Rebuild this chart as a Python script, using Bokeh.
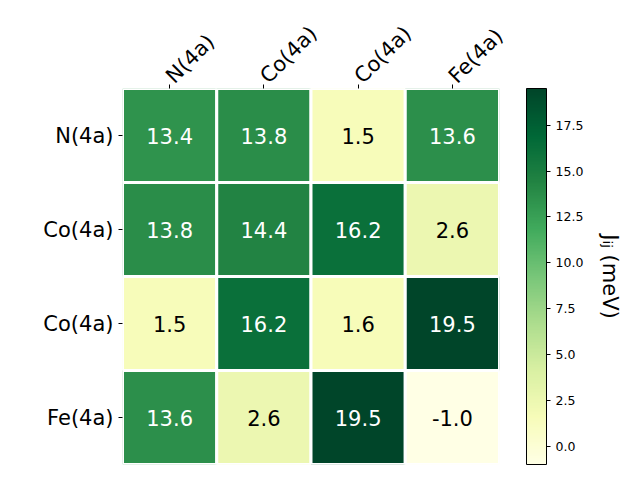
import math
from bokeh.plotting import figure
from bokeh.models import (ColumnDataSource, LinearColorMapper, ColorBar, FixedTicker,
                          PrintfTickFormatter, Range1d, LinearAxis)
from bokeh.palettes import YlGn9
from bokeh.embed import file_html
from bokeh.resources import INLINE

labels = ["N(4a)", "Co(4a)", "Co(4a)", "Fe(4a)"]
values = [
    [13.4, 13.8, 1.5, 13.6],
    [13.8, 14.4, 16.2, 2.6],
    [1.5, 16.2, 1.6, 19.5],
    [13.6, 2.6, 19.5, -1.0],
]
vmin, vmax = -1.0, 19.5
cbar_ticks = [0.0, 2.5, 5.0, 7.5, 10.0, 12.5, 15.0, 17.5]

# YlGn colormap (light -> dark), interpolated to 256 steps
base = list(reversed(YlGn9))
def _rgb(h):
    return tuple(int(h[i:i + 2], 16) for i in (1, 3, 5))
palette = []
n = 256
for k in range(n):
    t = k / (n - 1) * (len(base) - 1)
    i = min(int(t), len(base) - 2)
    f = t - i
    a, b = _rgb(base[i]), _rgb(base[i + 1])
    c = tuple(round(a[j] + (b[j] - a[j]) * f) for j in range(3))
    palette.append("#%02x%02x%02x" % c)

xs, ys, vs, txt, tcol = [], [], [], [], []
for r, row in enumerate(values):
    for c, v in enumerate(row):
        xs.append(c)
        ys.append(r)
        vs.append(v)
        txt.append(f"{v:.1f}")
        tcol.append("white" if v > 10 else "black")
src = ColumnDataSource(dict(x=xs, y=ys, v=vs, t=txt, tc=tcol))

mapper = LinearColorMapper(palette=palette, low=vmin, high=vmax)

p = figure(frame_width=377, frame_height=376,
           x_range=Range1d(-0.5, 3.5), y_range=Range1d(3.5, -0.5),
           x_axis_location="above", output_backend="svg", toolbar_location=None,
           min_border_left=122, min_border_top=88, min_border_bottom=8, min_border_right=6)
p.outline_line_color = None
p.grid.visible = False
p.background_fill_color = "white"

p.rect(x="x", y="y", width=1, height=1, source=src,
       fill_color={"field": "v", "transform": mapper},
       line_color="white", line_width=3)
p.text(x="x", y="y", text="t", source=src, text_color="tc",
       text_align="center", text_baseline="middle", text_font_size="21px",
       text_font={"value": "DejaVu Sans"})

for ax in (p.xaxis[0], p.yaxis[0]):
    ax.ticker = FixedTicker(ticks=[0, 1, 2, 3])
    ax.major_label_overrides = {i: lab for i, lab in enumerate(labels)}
    ax.axis_line_color = None
    ax.minor_tick_line_color = None
    ax.major_tick_in = 0
    ax.major_tick_out = 4
    ax.major_tick_line_color = "black"
    ax.major_label_text_font_size = "21px"
    ax.major_label_text_font = "DejaVu Sans"
    ax.major_label_text_color = "black"
p.xaxis[0].major_label_orientation = math.pi / 4

cb = ColorBar(color_mapper=mapper, width=20, height=376, padding=0, margin=0,
              location=(404, 0),
              ticker=FixedTicker(ticks=cbar_ticks),
              formatter=PrintfTickFormatter(format="%.1f"),
              major_label_text_font_size="12.5px",
              major_label_text_font="DejaVu Sans",
              major_label_text_color="black",
              major_tick_in=0, major_tick_out=4, major_tick_line_color="black",
              minor_tick_line_color=None,
              bar_line_color="black", bar_line_width=1,
              border_line_color=None, background_fill_color=None)
p.add_layout(cb, "center")

p.extra_y_ranges = {"dummy": Range1d(0, 1)}
lab_ax = LinearAxis(y_range_name="dummy", ticker=FixedTicker(ticks=[]),
                    axis_line_color=None, major_tick_line_color=None,
                    minor_tick_line_color=None,
                    axis_label="Jᵢⱼ (meV)", axis_label_text_font_size="21px",
                    axis_label_text_font="DejaVu Sans",
                    axis_label_text_font_style="normal",
                    axis_label_text_color="black",
                    axis_label_standoff=98)
p.add_layout(lab_ax, "right")

open("out.html", "w").write(file_html(p, INLINE))
